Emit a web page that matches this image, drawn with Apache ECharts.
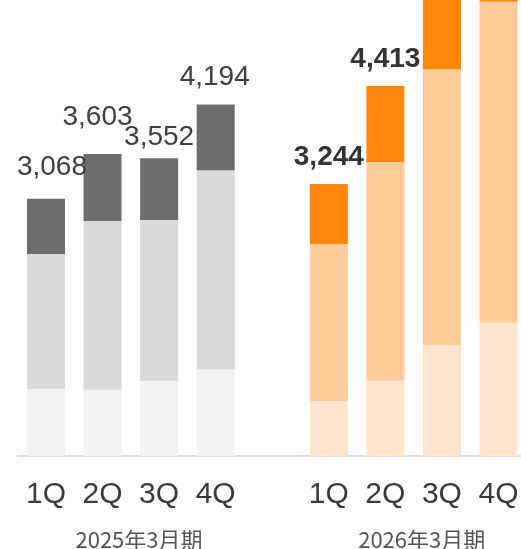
<!DOCTYPE html>
<html><head><meta charset="utf-8">
<script src="https://cdn.jsdelivr.net/npm/echarts@6/dist/echarts.min.js"></script>
<style>html,body{margin:0;padding:0;background:#fff}#c{width:521px;height:549px}</style>
</head><body><div id="c"></div>
<script>
// Data
var categories = ['1Q','2Q','3Q','4Q','','1Q','2Q','3Q','4Q'];
var periodLabels = ['2025年3月期','2026年3月期'];
var baseSeg   = [800, 791, 895, 1036, null, 656, 898, 1321, 1591];
var midSeg    = [1610, 2012, 1921, 2372, null, 1872, 2609, 3294, 3827];
var topSeg    = [658, 800, 736, 786, null, 716, 906, 950, 1000];
var totals    = [3068, 3603, 3552, 4194, null, 3244, 4413, 5565, 6418];

// label styling offsets (layout, not data)
var labelOffsets = [[6,-13],[-5,-18],[0,-2],[-1,-8],[0,0],[0,-8],[0,-8],[0,0],[0,0]];

var greyCols = ['#f2f2f2','#d9d9d9','#6d6d6d'];
var orangeCols = ['#fee5cc','#fdcc9a','#ff860b'];
function colorFor(level){
  return function(p){ return p.dataIndex >= 5 ? orangeCols[level] : greyCols[level]; };
}

var chart = echarts.init(document.getElementById('c'), null, {renderer:'canvas'});
var topData = topSeg.map(function(v,i){
  var isNew = i >= 5;
  return {
    value: v,
    label: {
      show: totals[i] != null,
      offset: labelOffsets[i],
      fontWeight: isNew ? 'bold' : 'normal',
      color: isNew ? '#333333' : '#404040'
    }
  };
});
chart.setOption({
  animation: false,
  grid: {left: 17.7, top: 0, width: 509.1, height: 456, containLabel: false, outerBoundsMode: 'none'},
  xAxis: {
    type: 'category', data: categories,
    axisLine: {show: true, lineStyle: {color: '#dcdcdc', width: 2}},
    axisTick: {show: false},
    axisLabel: {fontSize: 30, color: '#3a3a3a', fontFamily: 'Liberation Sans', margin: 24, interval: 0}
  },
  yAxis: {type: 'value', min: 0, max: 5440, show: false, splitLine: {show: false}},
  series: [
    {type: 'bar', stack: 's', barWidth: 38, data: baseSeg, itemStyle: {color: colorFor(0)}},
    {type: 'bar', stack: 's', barWidth: 38, data: midSeg, itemStyle: {color: colorFor(1)}},
    {type: 'bar', stack: 's', barWidth: 38, data: topData, itemStyle: {color: colorFor(2)},
     label: {show: true, position: 'top', distance: 5, fontSize: 28, fontFamily: 'Liberation Sans',
       formatter: function(p){ var t = totals[p.dataIndex]; return t == null ? '' : t.toLocaleString('en-US'); }}}
  ],
  graphic: [
    {type: 'text', left: 0, top: -22, style: {text: '（単位：百万円）', fontSize: 21, fill: '#555', fontFamily: 'Noto Sans CJK JP'}},
    {type: 'text', x: 139, y: 540, style: {text: periodLabels[0], fontSize: 22, fill: '#555555', fontFamily: 'Noto Sans CJK JP', align: 'center', verticalAlign: 'middle'}},
    {type: 'text', x: 421.7, y: 540, style: {text: periodLabels[1], fontSize: 22, fill: '#555555', fontFamily: 'Noto Sans CJK JP', align: 'center', verticalAlign: 'middle'}}
  ]
});
</script></body></html>
